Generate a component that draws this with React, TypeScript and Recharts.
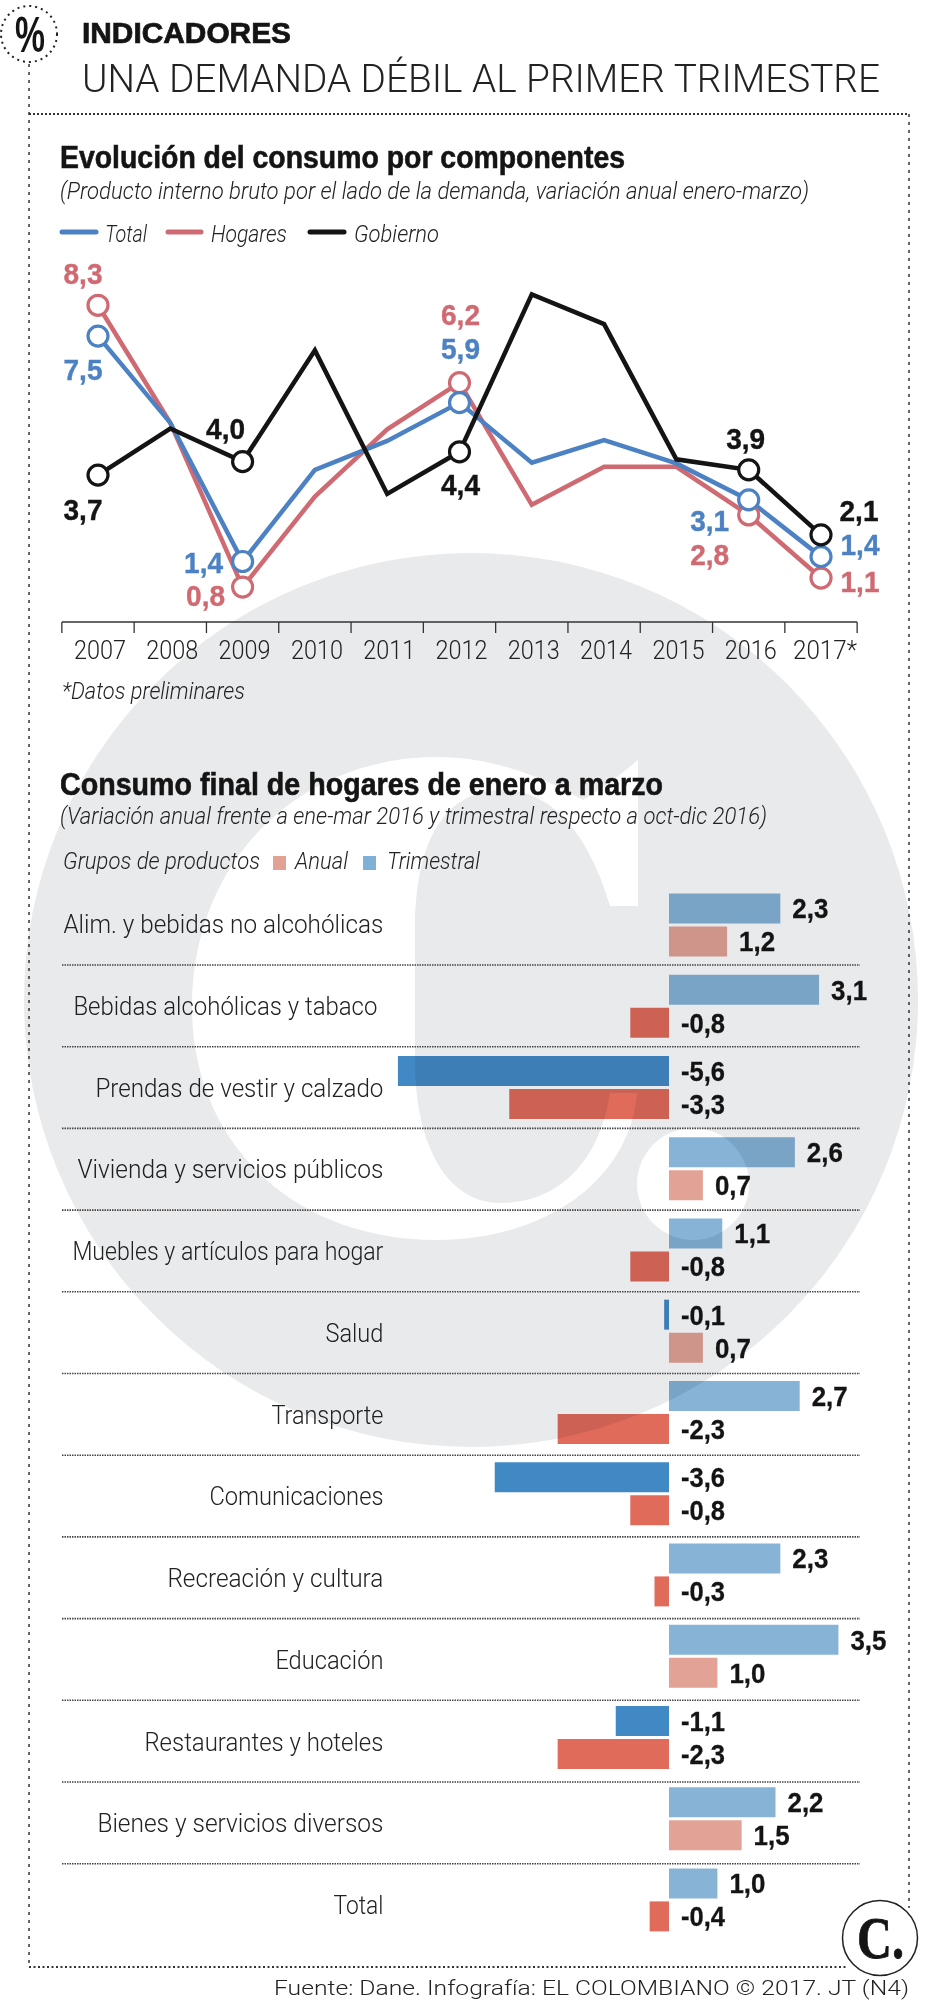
import { Bar, BarChart, Cell, LabelList, Line, LineChart, XAxis, YAxis } from 'recharts'

const years = ['2007', '2008', '2009', '2010', '2011', '2012', '2013', '2014', '2015', '2016', '2017*']
const totalValues = [7.48, 5.17, 1.48, 3.92, 4.69, 5.71, 4.11, 4.71, 4.09, 3.12, 1.61]
const hogaresValues = [8.3, 5.17, 0.8, 3.21, 5.0, 6.24, 2.99, 4.0, 4.0, 2.72, 1.04]
const gobiernoValues = [3.78, 5.02, 4.14, 7.1, 3.28, 4.4, 8.59, 7.8, 4.2, 3.92, 2.19]

const totalLabels = ['7,5', '', '1,4', '', '', '5,9', '', '', '', '3,1', '1,4']
const hogaresLabels = ['8,3', '', '0,8', '', '', '6,2', '', '', '', '2,8', '1,1']
const gobiernoLabels = ['3,7', '', '4,0', '', '', '4,4', '', '', '', '3,9', '2,1']

const groups = [
  'Alim. y bebidas no alcohólicas',
  'Bebidas alcohólicas y tabaco',
  'Prendas de vestir y calzado',
  'Vivienda y servicios públicos',
  'Muebles y artículos para hogar',
  'Salud',
  'Transporte',
  'Comunicaciones',
  'Recreación y cultura',
  'Educación',
  'Restaurantes y hoteles',
  'Bienes y servicios diversos',
  'Total',
]
const trimestralValues = [2.3, 3.1, -5.6, 2.6, 1.1, -0.1, 2.7, -3.6, 2.3, 3.5, -1.1, 2.2, 1.0]
const anualValues = [1.2, -0.8, -3.3, 0.7, -0.8, 0.7, -2.3, -0.8, -0.3, 1.0, -2.3, 1.5, -0.4]

// rendered width of each group name, the original face is condensed
const groupWidths = [320, 304, 288, 306, 311, 58, 112, 174, 216, 108, 239, 286, 50]

const lineData = years.map((year, i) => ({
  year,
  total: totalValues[i],
  hogares: hogaresValues[i],
  gobierno: gobiernoValues[i],
}))
const barData = groups.map((group, i) => ({
  group,
  trimestral: trimestralValues[i],
  anual: anualValues[i],
}))

const BLUE = '#4c82c3'
const RED = '#d06a72'
const BLACK = '#141414'
const GREY = '#e9eaec'
const LIGHT = 'Roboto, "Liberation Sans", sans-serif'
const HEAVY = '"Liberation Sans", Arial, sans-serif'

// label offsets from the marker, index -> [dx, dy]
const totalOffsets: Record<number, number[]> = { 0: [-15, 33], 2: [-39, 1], 5: [1, -54], 9: [-39, 21], 10: [39, -12] }
const hogaresOffsets: Record<number, number[]> = { 0: [-15, -32], 2: [-37, 8], 5: [1, -68], 9: [-39, 40], 10: [39, 3] }
const gobiernoOffsets: Record<number, number[]> = { 0: [-15, 34], 2: [-17, -33], 5: [1, 33], 9: [-3, -31], 10: [38, -24] }

const separators = Array.from({ length: 12 }, (_, i) => 965 + i * 81.7)

function T({ x, y, w, size, children, weight = 400, italic = false, family = LIGHT, fill = '#222', anchor = 'start', bold = 0 }: any) {
  return (
    <text
      x={x}
      y={y}
      fontSize={size}
      fontWeight={weight}
      fontStyle={italic ? 'italic' : 'normal'}
      fontFamily={family}
      fill={fill}
      stroke={bold ? fill : undefined}
      strokeWidth={bold || undefined}
      textAnchor={anchor}
      textLength={w}
      lengthAdjust={w ? 'spacingAndGlyphs' : undefined}
    >
      {children}
    </text>
  )
}

function makeDot(labels: string[], color: string) {
  return (props: any) => {
    if (!labels[props.index]) return <g key={props.index} />
    return <circle key={props.index} cx={props.cx} cy={props.cy} r={10} fill="#fff" stroke={color} strokeWidth={3.2} />
  }
}

function makeLabel(labels: string[], offsets: Record<number, number[]>, color: string) {
  return (props: any) => {
    const off = offsets[props.index]
    if (!off) return <g key={props.index} />
    return (
      <text
        key={props.index}
        x={props.x + off[0]}
        y={props.y + off[1]}
        textAnchor="middle"
        dominantBaseline="central"
        fontFamily={HEAVY}
        fontWeight={700}
        fontSize={30}
        fill={color}
        stroke={color}
        strokeWidth={0.4}
        textLength={39}
        lengthAdjust="spacingAndGlyphs"
      >
        {labels[props.index]}
      </text>
    )
  }
}

function YearTick({ x, y, index, payload }: any) {
  const half = 36.15
  const last = index === years.length - 1
  return (
    <g>
      <line x1={x - half} x2={x - half} y1={y} y2={y + 11} stroke="#333" strokeWidth={1.3} />
      {last && <line x1={x + half} x2={x + half} y1={y} y2={y + 11} stroke="#333" strokeWidth={1.3} />}
      <text
        x={last ? x + 4 : x + 2}
        y={y + 37}
        textAnchor="middle"
        fontFamily={LIGHT}
        fontWeight={300}
        fontSize={26}
        fill="#222"
        textLength={last ? 64 : 52}
        lengthAdjust="spacingAndGlyphs"
      >
        {payload.value}
      </text>
    </g>
  )
}

function GroupTick({ x, y, payload, index }: any) {
  return (
    <text
      x={x + (index === 1 ? -6 : 0)}
      y={y - 1 + index * 0.5}
      textAnchor="end"
      dominantBaseline="central"
      fontFamily={LIGHT}
      fontWeight={300}
      fontSize={26}
      fill="#222"
      textLength={groupWidths[index]}
      lengthAdjust="spacingAndGlyphs"
    >
      {payload.value}
    </text>
  )
}

function ValueLabel({ x, y, width, height, value }: any) {
  const right = Math.max(x, x + width)
  return (
    <text
      x={right + 12}
      y={y + height / 2 + 1}
      dominantBaseline="central"
      fontFamily={HEAVY}
      fontWeight={700}
      fontSize={27}
      fill={BLACK}
      stroke={BLACK}
      strokeWidth={0.3}
      textLength={value < 0 ? 44 : 36}
      lengthAdjust="spacingAndGlyphs"
    >
      {Number(value).toFixed(1).replace('.', ',')}
    </text>
  )
}

function Watermark() {
  return (
    <svg width={941} height={2000} style={{ position: 'absolute', left: 0, top: 0 }}>
      <circle cx={471} cy={1000} r={447} fill={GREY} />
      <path
        fill="#fff"
        d="M638 760 L638 906 L610 906 C597 860 565 790 503 790 C445 790 415 840 415 930 L415 1060 C415 1150 450 1203 500 1203 C560 1203 600 1160 610 1093 L637 1093 C630 1180 545 1240 437 1240 C290 1240 192 1140 192 1007 C192 860 300 757 437 757 C490 757 540 775 583 800 C600 790 620 775 638 760 Z"
      />
      <circle cx={693} cy={1184} r={56} fill="#fff" />
    </svg>
  )
}

function Overlay() {
  return (
    <svg width={941} height={2000} style={{ position: 'absolute', left: 0, top: 0, pointerEvents: 'none' }}>
      <circle cx={29} cy={34} r={28} fill="none" stroke="#222" strokeWidth={2} strokeDasharray="2 4" />
      <T x={15} y={52} w={30} size={50} weight={700} family={HEAVY} fill={BLACK}>%</T>
      <line x1={29} x2={29} y1={64} y2={1967} stroke="#333" strokeWidth={1.5} strokeDasharray="3 5" />
      <line x1={29} x2={909} y1={114} y2={114} stroke="#333" strokeWidth={2} strokeDasharray="2 2" />
      <line x1={909} x2={909} y1={114} y2={1908} stroke="#333" strokeWidth={1.5} strokeDasharray="3 5" />
      <line x1={29} x2={846} y1={1967} y2={1967} stroke="#333" strokeWidth={2} strokeDasharray="2 2.5" />

      <T x={82} y={43} w={209} size={29} weight={700} family={HEAVY} fill={BLACK} bold={0.7}>INDICADORES</T>
      <T x={82} y={92} w={798} size={38} weight={300}>UNA DEMANDA DÉBIL AL PRIMER TRIMESTRE</T>

      <T x={60} y={168} w={565} size={32} weight={700} family={HEAVY} fill={BLACK} bold={0.6}>Evolución del consumo por componentes</T>
      <T x={60} y={199} w={749} size={24} weight={300} italic>(Producto interno bruto por el lado de la demanda, variación anual enero-marzo)</T>

      <line x1={62} x2={96} y1={232} y2={232} stroke={BLUE} strokeWidth={5} strokeLinecap="round" />
      <T x={105} y={242} w={42} size={24} weight={300} italic>Total</T>
      <line x1={168} x2={201} y1={232} y2={232} stroke={RED} strokeWidth={5} strokeLinecap="round" />
      <T x={211} y={242} w={76} size={24} weight={300} italic>Hogares</T>
      <line x1={310} x2={344} y1={232} y2={232} stroke={BLACK} strokeWidth={5} strokeLinecap="round" />
      <T x={354} y={242} w={85} size={24} weight={300} italic>Gobierno</T>

      <T x={62} y={699} w={183} size={24} weight={300} italic>*Datos preliminares</T>

      <T x={60} y={795} w={603} size={32} weight={700} family={HEAVY} fill={BLACK} bold={0.6}>Consumo final de hogares de enero a marzo</T>
      <T x={60} y={824} w={707} size={24} weight={300} italic>(Variación anual frente a ene-mar 2016 y trimestral respecto a oct-dic 2016)</T>

      <T x={63} y={869} w={197} size={24} weight={300} italic>Grupos de productos</T>
      <rect x={273} y={856} width={13} height={14} fill="#e3a196" />
      <T x={295} y={869} w={53} size={24} weight={300} italic>Anual</T>
      <rect x={363} y={856} width={13} height={14} fill="#7fb0d6" />
      <T x={387} y={869} w={93} size={24} weight={300} italic>Trimestral</T>

      {separators.map((y) => (
        <line key={y} x1={62} x2={860} y1={y} y2={y} stroke="#444" strokeWidth={1.6} strokeDasharray="1.5 1" />
      ))}

      <circle cx={880} cy={1938} r={37.5} fill="#fff" stroke="#222" strokeWidth={1.5} />
      <T x={857} y={1958} w={47} size={60} weight={700} family='"Liberation Serif", serif' fill={BLACK} bold={0.8}>C.</T>

      <T x={274} y={1995} w={635} size={21} weight={300}>Fuente: Dane. Infografía: EL COLOMBIANO © 2017. JT (N4)</T>
    </svg>
  )
}

export default function App() {
  return (
    <div style={{ position: 'absolute', left: 0, top: 0, width: 941, height: 2000, background: '#fff', overflow: 'hidden' }}>
      <Watermark />
      <div style={{ position: 'absolute', left: 0, top: 240 }}>
        <LineChart width={941} height={440} data={lineData} margin={{ top: 39, right: 84, bottom: 20, left: 62 }} accessibilityLayer={false}>
          <XAxis
            dataKey="year"
            height={38}
            padding={{ left: 36, right: 36 }}
            axisLine={{ stroke: '#333', strokeWidth: 1.5 }}
            tickLine={false}
            tickSize={0}
            tickMargin={0}
            interval={0}
            tick={<YearTick />}
          />
          <YAxis hide domain={[-0.13, 9]} />
          <Line dataKey="hogares" stroke={RED} strokeWidth={4.5} strokeLinejoin="miter" isAnimationActive={false} dot={makeDot(hogaresLabels, RED)} label={makeLabel(hogaresLabels, hogaresOffsets, RED)} />
          <Line dataKey="total" stroke={BLUE} strokeWidth={4.5} strokeLinejoin="miter" isAnimationActive={false} dot={makeDot(totalLabels, BLUE)} label={makeLabel(totalLabels, totalOffsets, BLUE)} />
          <Line dataKey="gobierno" stroke={BLACK} strokeWidth={4.5} strokeLinejoin="miter" isAnimationActive={false} dot={makeDot(gobiernoLabels, BLACK)} label={makeLabel(gobiernoLabels, gobiernoOffsets, BLACK)} />
        </LineChart>
      </div>
      <div style={{ position: 'absolute', left: 0, top: 860, mixBlendMode: 'multiply' }}>
        <BarChart
          width={941}
          height={1105}
          data={barData}
          layout="vertical"
          margin={{ top: 24.4, right: 59, bottom: 24.35, left: 0 }}
          barSize={30}
          barGap={3}
          accessibilityLayer={false}
        >
          <XAxis type="number" hide domain={[-5.9, 4.4]} />
          <YAxis type="category" dataKey="group" width={383.4} axisLine={false} tickLine={false} tickSize={0} tickMargin={0} interval={0} tick={<GroupTick />} />
          <Bar dataKey="trimestral" isAnimationActive={false}>
            {trimestralValues.map((v, i) => (
              <Cell key={i} fill={v < 0 ? '#4189c4' : '#86b3d6'} />
            ))}
            <LabelList dataKey="trimestral" content={<ValueLabel />} />
          </Bar>
          <Bar dataKey="anual" isAnimationActive={false}>
            {anualValues.map((v, i) => (
              <Cell key={i} fill={v < 0 ? '#e16b5b' : '#e3a296'} />
            ))}
            <LabelList dataKey="anual" content={<ValueLabel />} />
          </Bar>
        </BarChart>
      </div>
      <Overlay />
    </div>
  )
}
